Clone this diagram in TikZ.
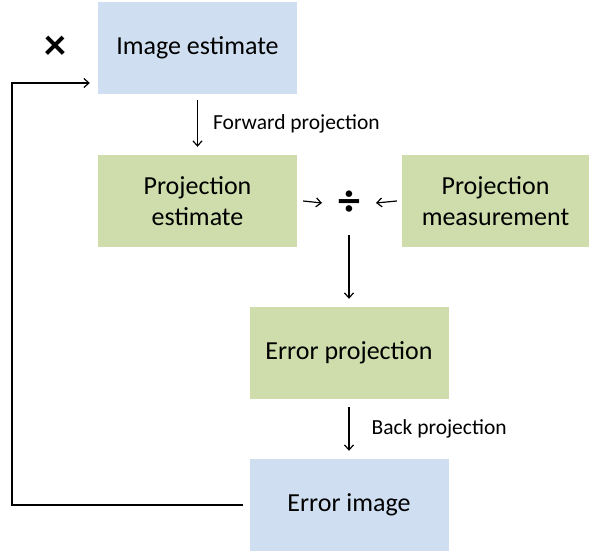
\documentclass[tikz,border=0pt]{standalone}
\usepackage{fontspec}
\setmainfont{Carlito}
\usetikzlibrary{arrows.meta}
\definecolor{boxblue}{RGB}{207,223,241}
\definecolor{boxgreen}{RGB}{206,221,171}
\begin{document}
\begin{tikzpicture}[x=1pt,y=-1pt,
  box/.style={minimum width=199pt,minimum height=92pt,inner sep=0pt,align=center,font=\fontsize{26}{31}\selectfont},
  bluebox/.style={box,fill=boxblue},
  greenbox/.style={box,fill=boxgreen},
  arr/.style={-{Straight Barb[length=5pt,width=9pt]},line width=1.2pt},
  lbl/.style={font=\fontsize{21.5}{24}\selectfont,anchor=west,inner sep=0pt}]
\useasboundingbox (0,0) rectangle (590,553);
\node[bluebox] (ie) at (197.5,48) {Image estimate};
\node[greenbox] (pe) at (197.5,201) {Projection\\estimate};
\node[greenbox,minimum width=187pt] (pm) at (495.5,201) {Projection\\measurement};
\node[greenbox] (ep) at (349,353) {Error projection};
\node[bluebox] (ei) at (349,505) {Error image};
\node[font=\fontsize{44}{44}\selectfont\bfseries,inner sep=0pt] (times) at (55,48) {×};
\node[font=\fontsize{44}{44}\selectfont\bfseries,inner sep=0pt] (div) at (349,203) {÷};
\draw[arr] ([yshift=-6pt]ie.south) -- ([yshift=8pt]pe.north) node[midway,lbl,xshift=15pt] {Forward projection};
\draw[arr] ([xshift=6pt]pe.east) -- ([xshift=-27pt]div.center);
\draw[arr] ([xshift=-5pt]pm.west) -- ([xshift=27pt]div.center);
\draw[arr] ([yshift=-32pt]div.center) -- ([yshift=8pt]ep.north);
\draw[arr] ([yshift=-8pt]ep.south) -- ([yshift=8pt]ei.north) node[midway,lbl,xshift=22pt] {Back projection};
\coordinate (c1) at (12,505);
\coordinate (c2) at (12,83);
\draw[arr] ([xshift=-6pt]ei.west) -- (c1) -- (c2) -- ([xshift=-8pt]c2 -| ie.west);
\end{tikzpicture}
\end{document}
